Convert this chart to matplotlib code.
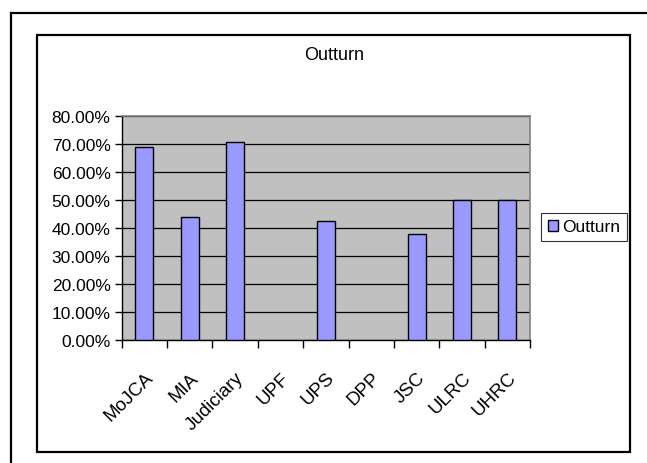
import numpy as np
import matplotlib
matplotlib.use("Agg")
import matplotlib.pyplot as plt
from matplotlib.lines import Line2D
from matplotlib.patches import Rectangle
from matplotlib.ticker import FixedLocator, FuncFormatter

plt.rcParams['font.family'] = ['Liberation Sans', 'DejaVu Sans']

# Outturn per institution (percent); UPF and DPP have no outturn
categories = ["MoJCA", "MIA", "Judiciary", "UPF", "UPS", "DPP", "JSC", "ULRC", "UHRC"]
outturn = [68.7, 44.0, 70.6, np.nan, 42.3, np.nan, 37.9, 50.0, 50.0]
y_ticks = [0, 10, 20, 30, 40, 50, 60, 70, 80]

W, H = 647, 464
fig = plt.figure(figsize=(W / 100, H / 100), dpi=100)

def fx(px):
    return px / W

def fy(py):
    return 1 - py / H

# Outer frame (left and top edges visible) and inner chart frame
fig.add_artist(Line2D([fx(11), fx(11)], [fy(14), fy(470)], color="black", lw=1.6))
fig.add_artist(Line2D([fx(11), fx(660)], [fy(14), fy(14)], color="black", lw=1.6))
fig.add_artist(Rectangle((fx(37), fy(453)), fx(630) - fx(37), fy(36) - fy(453),
                         fill=False, edgecolor="black", lw=1.6))

left, right, top, bottom = 121.7, 530, 116.7, 340.7
ax = fig.add_axes([fx(left), fy(bottom), fx(right) - fx(left), fy(top) - fy(bottom)])
ax.set_facecolor("#C0C0C0")

x = np.arange(len(categories))
bars = ax.bar(x, outturn, width=0.4, color="#9999FF", edgecolor="black",
              linewidth=1.0, label="Outturn", zorder=3)

ax.set_xlim(-0.5, len(categories) - 0.5)
ax.set_ylim(0, 80)
ax.yaxis.set_major_locator(FixedLocator(y_ticks))
ax.yaxis.set_major_formatter(FuncFormatter(lambda v, p: f"{v:.2f}%"))
ax.grid(axis="y", color="black", lw=0.9, zorder=1)
ax.set_axisbelow(True)

# Category tick marks sit on the boundaries between categories
ax.set_xticks(np.arange(-0.5, len(categories)), minor=False)
ax.set_xticklabels([])
ax.set_xticks(x, minor=True)
ax.set_xticklabels(categories, minor=True, rotation=45, ha="right",
                   rotation_mode="anchor", fontsize=13.5)
ax.tick_params(axis="x", which="minor", length=0, pad=21)
ax.tick_params(axis="x", which="major", length=6, width=1, direction="out")
ax.tick_params(axis="y", length=5, width=1, direction="out", labelsize=12.5, pad=3)

for s in ["top", "right"]:
    ax.spines[s].set_color("#808080")
    ax.spines[s].set_linewidth(1.2)
for s in ["left", "bottom"]:
    ax.spines[s].set_color("black")
    ax.spines[s].set_linewidth(1.0)

fig.text(fx(334), fy(55), "Outturn", ha="center", va="center", fontsize=13)

leg = fig.legend(handles=[Rectangle((0, 0), 1, 1, facecolor="#9999FF", edgecolor="black", lw=1)],
                 labels=["Outturn"], loc="center", bbox_to_anchor=(fx(584), fy(228)),
                 fontsize=12.5, frameon=True, fancybox=False, handlelength=0.6,
                 handleheight=0.6, handletextpad=0.25, borderpad=0.4, borderaxespad=0)
leg.get_frame().set_edgecolor("black")
leg.get_frame().set_linewidth(0.8)

fig.savefig("out.png", dpi=100)
